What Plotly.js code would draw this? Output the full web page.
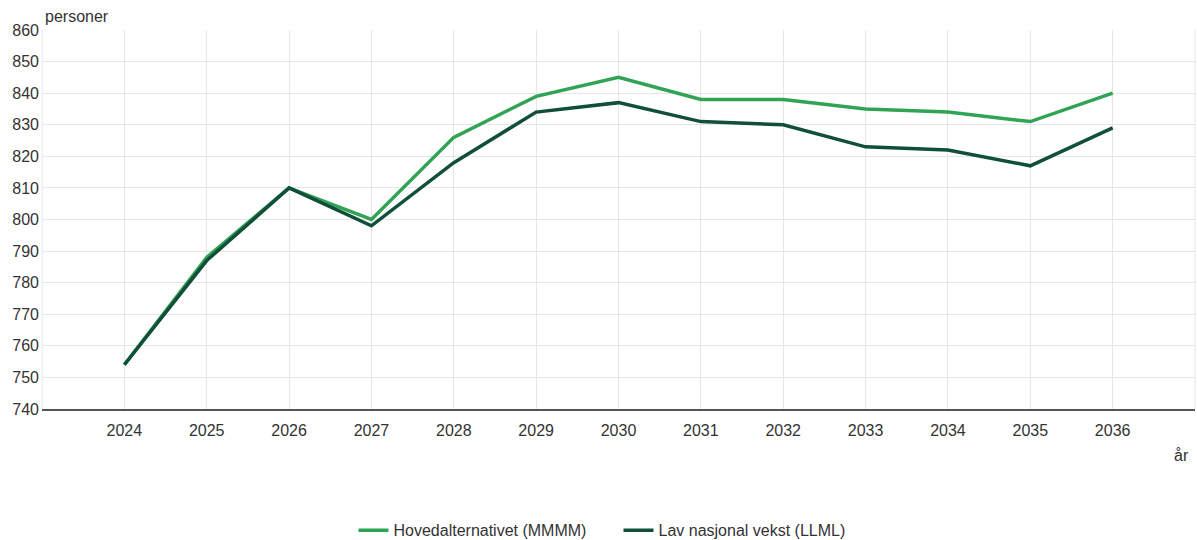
<!DOCTYPE html>
<html>
<head>
<meta charset="utf-8">
<script src="https://cdn.plot.ly/plotly-3.0.1.min.js"></script>
<style>
  html, body { margin: 0; padding: 0; background: #fff; }
  #chart { width: 1197px; height: 540px; }
</style>
</head>
<body>
<div id="chart"></div>
<script>
const years = [2024, 2025, 2026, 2027, 2028, 2029, 2030, 2031, 2032, 2033, 2034, 2035, 2036];
const hovedalt = [754, 788, 810, 800, 826, 839, 845, 838, 838, 835, 834, 831, 840];
const lavVekst = [754, 787, 810, 798, 818, 834, 837, 831, 830, 823, 822, 817, 829];
const yTicks = [740, 750, 760, 770, 780, 790, 800, 810, 820, 830, 840, 850, 860];

const font = "Arial, 'Liberation Sans', sans-serif";

const traces = [
  {
    x: years, y: hovedalt,
    mode: "lines", type: "scatter",
    name: "Hovedalternativet (MMMM)",
    line: { color: "#31a354", width: 3.5 },
  },
  {
    x: years, y: lavVekst,
    mode: "lines", type: "scatter",
    name: "Lav nasjonal vekst (LLML)",
    line: { color: "#114f3b", width: 3.5 },
  },
];

const layout = {
  width: 1197, height: 540,
  margin: { l: 42, r: 2, t: 30, b: 131, autoexpand: false },
  paper_bgcolor: "#fff", plot_bgcolor: "#fff",
  font: { family: font, size: 16, color: "#333" },
  showlegend: true,
  legend: {
    orientation: "h", x: 0.5, xanchor: "center",
    yref: "container", y: 0.018, yanchor: "middle",
    font: { size: 16, color: "#333" },
    entrywidth: 220,
  },
  xaxis: {
    range: [2023, 2037],
    tickvals: years,
    ticktext: years.map(String),
    showgrid: true, gridcolor: "#e6e6e6",
    showline: true, linecolor: "#555", linewidth: 2,
    ticks: "", ticklen: 0, zeroline: false,
    ticklabelstandoff: 6,
  },
  yaxis: {
    range: [740, 860],
    tickvals: yTicks,
    showgrid: true, gridcolor: "#e6e6e6",
    showline: false, zeroline: false,
    ticks: "", ticklabelstandoff: 2,
  },
  shapes: [
    { type: "line", xref: "paper", yref: "paper", x0: 0, x1: 0, y0: 0, y1: 1, line: { color: "#e6e6e6", width: 1 } },
    { type: "line", xref: "paper", yref: "paper", x0: 1, x1: 1, y0: 0, y1: 1, line: { color: "#e6e6e6", width: 1 } },
  ],
  annotations: [
    { text: "personer", xref: "paper", yref: "paper", x: 0, y: 1, xanchor: "left", yanchor: "bottom",
      xshift: 1, yshift: 3, showarrow: false, font: { size: 16, color: "#333" } },
    { text: "år", xref: "paper", yref: "paper", x: 1, y: 0, xanchor: "right", yanchor: "top",
      xshift: -4, yshift: -36, showarrow: false, font: { size: 16, color: "#333" } },
  ],
};

Plotly.newPlot("chart", traces, layout, { displayModeBar: false, staticPlot: true });
</script>
</body>
</html>
